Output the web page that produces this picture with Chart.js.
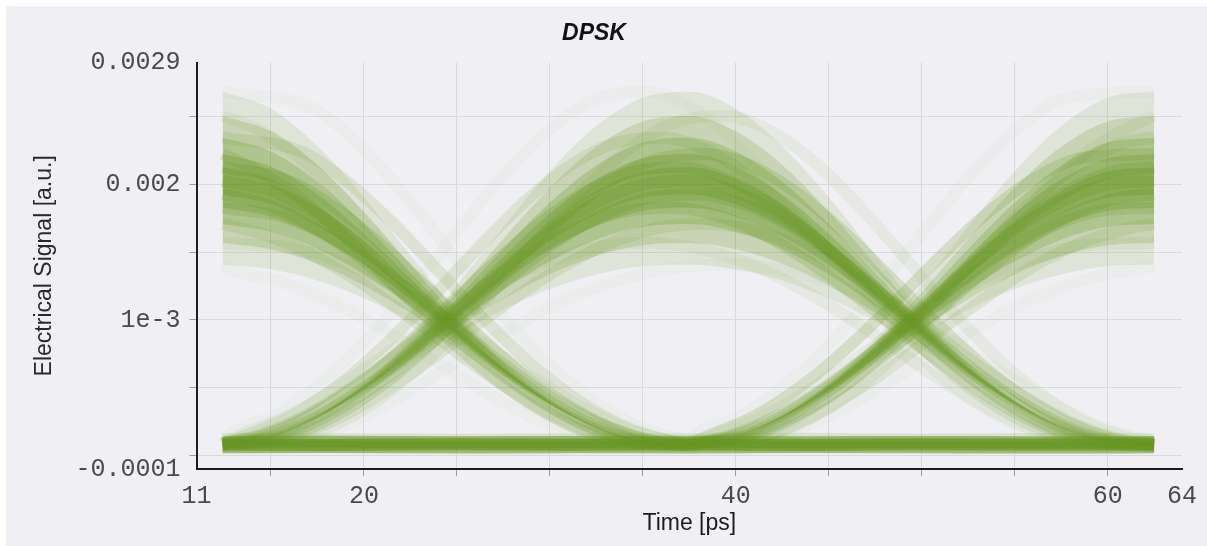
<!DOCTYPE html>
<html>
<head>
<meta charset="utf-8">
<title>DPSK eye diagram</title>
<script src="https://cdn.jsdelivr.net/npm/chart.js@4.4.1/dist/chart.umd.min.js"></script>
<style>
  html, body { margin: 0; padding: 0; background: #f0eff3; overflow: hidden; width: 100%; height: 100%; }
  .edge { position: absolute; background: #ffffff; }
  #edgeTop { left: 0; top: 0; width: 100%; height: 6px; }
  #edgeLeft { left: 0; top: 0; width: 6px; height: 100%; }
  #eye { position: absolute; left: 6px; top: 6px; display: block; }
</style>
</head>
<body>
<div class="edge" id="edgeTop"></div>
<div class="edge" id="edgeLeft"></div>
<canvas id="eye" width="1201" height="540"></canvas>
<script>
// Eye diagram of the DPSK receiver output: every trace is two bit slots of the
// detected electrical signal, folded on the same time window.
// Signal values below are in units of 1e-3 a.u., time in ps.

const timeHump = [12.4, 15, 17.5, 20, 22.5, 25, 27.5, 30, 32.5, 35, 37.5, 40, 42.5, 45, 47.5, 50, 52.5, 55, 57.5, 60, 62.5];
const timeFall = [12.4, 15, 17.5, 20, 22.5, 25, 27.5, 30, 32.5, 35, 37.5];
const timeRise = [37.5, 40, 42.5, 45, 47.5, 50, 52.5, 55, 57.5, 60, 62.5];
const timeFlat = [12.4, 18, 25, 31, 37.5, 44, 50, 56, 62.5];

// 0 -> 1 -> 0 : pulse in the middle slot
const humpTraces = [
  [0.070, 0.143, 0.277, 0.463, 0.675, 0.887, 1.077, 1.229, 1.336, 1.396, 1.409, 1.374, 1.291, 1.161, 0.990, 0.787, 0.571, 0.370, 0.205, 0.104, 0.088],
  [0.085, 0.143, 0.280, 0.472, 0.698, 0.933, 1.153, 1.338, 1.473, 1.552, 1.568, 1.522, 1.415, 1.254, 1.051, 0.822, 0.587, 0.375, 0.205, 0.104, 0.072],
  [0.075, 0.144, 0.281, 0.480, 0.718, 0.974, 1.220, 1.433, 1.593, 1.688, 1.708, 1.651, 1.524, 1.336, 1.105, 0.852, 0.600, 0.379, 0.206, 0.104, 0.083],
  [0.090, 0.144, 0.283, 0.487, 0.736, 1.008, 1.277, 1.514, 1.696, 1.805, 1.828, 1.763, 1.617, 1.406, 1.151, 0.877, 0.612, 0.383, 0.207, 0.104, 0.078],
  [0.080, 0.144, 0.285, 0.492, 0.750, 1.037, 1.324, 1.582, 1.781, 1.902, 1.927, 1.855, 1.694, 1.464, 1.189, 0.899, 0.621, 0.386, 0.207, 0.104, 0.090],
  [0.072, 0.144, 0.286, 0.498, 0.765, 1.066, 1.372, 1.650, 1.867, 1.999, 2.027, 1.948, 1.772, 1.522, 1.227, 0.920, 0.631, 0.389, 0.208, 0.104, 0.080],
  [0.088, 0.144, 0.287, 0.504, 0.780, 1.095, 1.420, 1.718, 1.953, 2.096, 2.127, 2.041, 1.850, 1.580, 1.265, 0.941, 0.641, 0.392, 0.209, 0.104, 0.070],
  [0.078, 0.144, 0.289, 0.509, 0.794, 1.124, 1.467, 1.786, 2.038, 2.193, 2.226, 2.133, 1.927, 1.638, 1.303, 0.963, 0.650, 0.395, 0.209, 0.104, 0.085],
  [0.083, 0.144, 0.291, 0.516, 0.812, 1.158, 1.524, 1.867, 2.141, 2.310, 2.346, 2.245, 2.020, 1.708, 1.349, 0.988, 0.662, 0.399, 0.210, 0.104, 0.075],
  [0.070, 0.145, 0.293, 0.525, 0.835, 1.205, 1.600, 1.976, 2.278, 2.465, 2.506, 2.393, 2.145, 1.801, 1.411, 1.023, 0.677, 0.404, 0.211, 0.104, 0.086],
  [0.090, 0.145, 0.295, 0.535, 0.861, 1.257, 1.686, 2.098, 2.432, 2.640, 2.685, 2.560, 2.284, 1.906, 1.479, 1.061, 0.694, 0.410, 0.212, 0.104, 0.074]
];

// 1 -> 0 : pulse ending in the first slot
const fallTraces = [
  [1.409, 1.374, 1.291, 1.161, 0.990, 0.787, 0.571, 0.370, 0.205, 0.104, 0.070],
  [1.568, 1.522, 1.415, 1.254, 1.051, 0.822, 0.587, 0.375, 0.205, 0.104, 0.085],
  [1.708, 1.651, 1.524, 1.336, 1.105, 0.852, 0.600, 0.379, 0.206, 0.104, 0.075],
  [1.828, 1.763, 1.617, 1.406, 1.151, 0.877, 0.612, 0.383, 0.207, 0.104, 0.090],
  [1.927, 1.855, 1.694, 1.464, 1.189, 0.899, 0.621, 0.386, 0.207, 0.104, 0.080],
  [2.027, 1.948, 1.772, 1.522, 1.227, 0.920, 0.631, 0.389, 0.208, 0.104, 0.072],
  [2.127, 2.041, 1.850, 1.580, 1.265, 0.941, 0.641, 0.392, 0.209, 0.104, 0.088],
  [2.226, 2.133, 1.927, 1.638, 1.303, 0.963, 0.650, 0.395, 0.209, 0.104, 0.078],
  [2.346, 2.245, 2.020, 1.708, 1.349, 0.988, 0.662, 0.399, 0.210, 0.104, 0.083],
  [2.506, 2.393, 2.145, 1.801, 1.411, 1.023, 0.677, 0.404, 0.211, 0.104, 0.070],
  [2.685, 2.560, 2.284, 1.906, 1.479, 1.061, 0.694, 0.410, 0.212, 0.104, 0.090]
];

// 0 -> 1 : pulse starting in the last slot
const riseTraces = [
  [0.088, 0.143, 0.277, 0.463, 0.675, 0.887, 1.077, 1.229, 1.336, 1.396, 1.409],
  [0.072, 0.143, 0.280, 0.472, 0.698, 0.933, 1.153, 1.338, 1.473, 1.552, 1.568],
  [0.083, 0.144, 0.281, 0.480, 0.718, 0.974, 1.220, 1.433, 1.593, 1.688, 1.708],
  [0.078, 0.144, 0.283, 0.487, 0.736, 1.008, 1.277, 1.514, 1.696, 1.805, 1.828],
  [0.090, 0.144, 0.285, 0.492, 0.750, 1.037, 1.324, 1.582, 1.781, 1.902, 1.927],
  [0.080, 0.144, 0.286, 0.498, 0.765, 1.066, 1.372, 1.650, 1.867, 1.999, 2.027],
  [0.070, 0.144, 0.287, 0.504, 0.780, 1.095, 1.420, 1.718, 1.953, 2.096, 2.127],
  [0.085, 0.144, 0.289, 0.509, 0.794, 1.124, 1.467, 1.786, 2.038, 2.193, 2.226],
  [0.075, 0.144, 0.291, 0.516, 0.812, 1.158, 1.524, 1.867, 2.141, 2.310, 2.346],
  [0.086, 0.145, 0.293, 0.525, 0.835, 1.205, 1.600, 1.976, 2.278, 2.465, 2.506],
  [0.074, 0.145, 0.295, 0.535, 0.861, 1.257, 1.686, 2.098, 2.432, 2.640, 2.685]
];

// 0 -> 0 : zero level
const flatTraces = [
  [0.060, 0.062, 0.058, 0.061, 0.059, 0.062, 0.060, 0.058, 0.060],
  [0.080, 0.078, 0.082, 0.079, 0.081, 0.078, 0.082, 0.080, 0.080],
  [0.098, 0.101, 0.097, 0.100, 0.102, 0.098, 0.100, 0.097, 0.099],
  [0.118, 0.122, 0.116, 0.120, 0.119, 0.123, 0.117, 0.121, 0.119]
];

// timing offset (ps) of each trace, applied to the inner samples
const humpJitter = [2.3, -1.8, 1.2, -0.8, 0.4, 0, -0.5, 0.9, -1.4, 1.9, -2.3];
const fallJitter = [-2.2, 1.5, -0.9, 0.6, -0.3, 0.1, 0.7, -1.2, 1.6, -0.5, 2.3];
const riseJitter = [2.3, -1.2, 1.5, -0.4, 0.6, -0.1, 0.3, -1.5, 0.9, 1.8, -2.2];

const xTicks = [11, 15, 20, 25, 30, 35, 40, 45, 50, 55, 60, 64];
const xTickText = ['11', '', '20', '', '', '', '40', '', '', '', '60', '64'];
const yTicks = [-0.0001, 0, 0.0005, 0.001, 0.0015, 0.002, 0.0025, 0.0029];
const yTickText = ['-0.0001', '', '', '1e-3', '', '0.002', '', '0.0029'];

const UNIT = 1e-3;
const traceAlpha = [0.03, 0.08, 0.14, 0.2, 0.24, 0.26, 0.24, 0.2, 0.14, 0.08, 0.03];
const flatAlpha = [0.6, 0.75, 0.6, 0.15];
// shaded density layers: [lower trace, upper trace, opacity]
const densityBands = [[0, 10, 0.12], [1, 9, 0.2], [2, 8, 0.26], [3, 7, 0.3], [4, 6, 0.3]];
const green = a => `rgba(104,150,36,${a})`;

function points(times, values, shift) {
  const last = times.length - 1;
  return values.map((v, i) => ({
    x: (i === 0 || i === last) ? times[i] : times[i] + shift,
    y: v * UNIT
  }));
}

function traceDataset(times, values, shift, alpha, width) {
  return {
    data: points(times, values, shift),
    borderColor: green(alpha),
    borderWidth: width,
    pointRadius: 0,
    fill: false,
    cubicInterpolationMode: 'monotone'
  };
}

const datasets = [];

// filled envelopes give each group its dense core
function addDensity(times, traces) {
  densityBands.forEach(([lo, hi, a]) => {
    datasets.push({
      data: points(times, traces[lo], 0),
      borderWidth: 0, pointRadius: 0,
      backgroundColor: green(a),
      fill: '+1',
      cubicInterpolationMode: 'monotone'
    });
    datasets.push({
      data: points(times, traces[hi], 0),
      borderWidth: 0, pointRadius: 0,
      fill: false,
      cubicInterpolationMode: 'monotone'
    });
  });
}
addDensity(timeHump, humpTraces);
addDensity(timeFall, fallTraces);
addDensity(timeRise, riseTraces);

flatTraces.forEach((vals, i) => datasets.push(traceDataset(timeFlat, vals, 0, flatAlpha[i], 12)));
humpTraces.forEach((vals, i) => datasets.push(traceDataset(timeHump, vals, humpJitter[i], traceAlpha[i], 12)));
fallTraces.forEach((vals, i) => datasets.push(traceDataset(timeFall, vals, fallJitter[i], traceAlpha[i], 12)));
riseTraces.forEach((vals, i) => datasets.push(traceDataset(timeRise, vals, riseJitter[i], traceAlpha[i], 12)));

const gridColor = '#d9d8dd';
const edgeless = (ctx, n) => (ctx.index === 0 || ctx.index === n - 1) ? 'rgba(0,0,0,0)' : gridColor;
const tickFont = { family: '"Liberation Mono", monospace', size: 25 };
const labelFont = { family: '"Liberation Sans", Arial, sans-serif', size: 23 };

new Chart(document.getElementById('eye'), {
  type: 'line',
  data: { datasets },
  options: {
    responsive: false,
    animation: false,
    layout: { padding: { top: 0, left: 0, right: 25, bottom: 0 } },
    plugins: {
      legend: { display: false },
      tooltip: { enabled: false },
      title: {
        display: true,
        text: 'DPSK',
        color: '#111',
        font: { family: '"Liberation Sans", Arial, sans-serif', size: 23, weight: 'bold', style: 'italic' },
        padding: { top: 14, bottom: 15 }
      }
    },
    scales: {
      x: {
        type: 'linear',
        min: 11,
        max: 64,
        afterBuildTicks: s => { s.ticks = xTicks.map(v => ({ value: v })); },
        afterFit: s => { s.height = 77; },
        ticks: {
          autoSkip: false,
          maxRotation: 0,
          padding: 5,
          color: '#4a4a4a',
          font: tickFont,
          callback: (v, i) => xTickText[i]
        },
        grid: {
          color: ctx => edgeless(ctx, xTicks.length),
          tickColor: ctx => edgeless(ctx, xTicks.length) === gridColor ? '#9a9a9a' : 'rgba(0,0,0,0)',
          tickLength: 7
        },
        border: { display: true, color: '#1c1c1c', width: 2 },
        title: {
          display: true,
          text: 'Time [ps]',
          color: '#1c1c1c',
          font: labelFont,
          padding: { top: 0, bottom: 9 }
        }
      },
      y: {
        type: 'linear',
        min: -0.0001,
        max: 0.0029,
        afterBuildTicks: s => { s.ticks = yTicks.map(v => ({ value: v })); },
        afterFit: s => { s.width = 190.6; },
        ticks: {
          autoSkip: false,
          padding: 9,
          color: '#4a4a4a',
          font: tickFont,
          callback: (v, i) => yTickText[i]
        },
        grid: {
          color: ctx => edgeless(ctx, yTicks.length),
          tickColor: ctx => edgeless(ctx, yTicks.length) === gridColor ? '#9a9a9a' : 'rgba(0,0,0,0)',
          tickLength: 7
        },
        border: { display: true, color: '#1c1c1c', width: 2 },
        title: {
          display: true,
          text: 'Electrical Signal [a.u.]',
          color: '#2a2a2a',
          font: labelFont,
          padding: { top: 25, bottom: 0 }
        }
      }
    }
  }
});
</script>
</body>
</html>
